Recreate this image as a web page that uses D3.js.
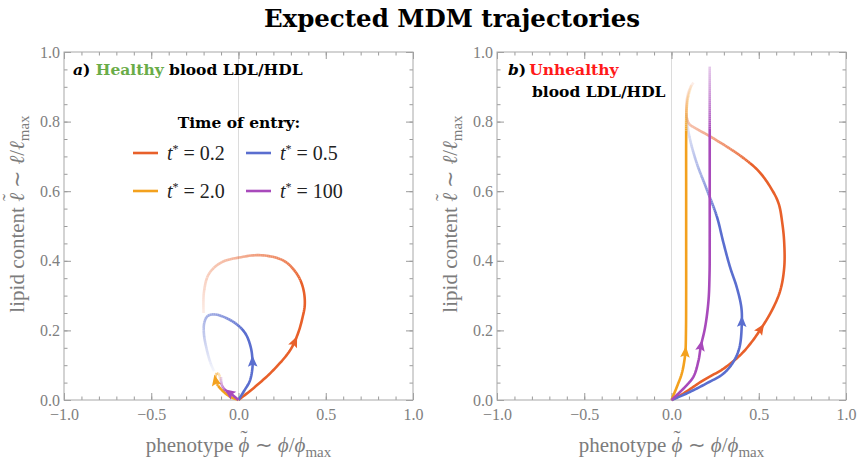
<!DOCTYPE html>
<html>
<head>
<meta charset="utf-8">
<script src="https://d3js.org/d3.v7.min.js"></script>
<style>
  body { margin: 0; background: #fff; }
  .tick text { fill: #808080; font-family: 'Liberation Serif', serif; font-size: 16px; }
  .tick line { stroke: #9a9a9a; }
  .axis-label { fill: #7c7c7c; font-family: 'Liberation Serif', serif; font-size: 21px; }
  .bold { font-family: 'DejaVu Serif', serif; font-weight: bold; }
  .legend-text { fill: #222; font-family: 'Liberation Serif', serif; font-size: 20px; }
</style>
</head>
<body>
<svg width="860" height="463"></svg>
<script>
// axis ticks
const xTicks = [-1, -0.5, 0, 0.5, 1];
const yTicks = [0, 0.2, 0.4, 0.6, 0.8, 1];
const xMinor = d3.range(-10, 11).map(d => d / 10);
const yMinor = d3.range(0, 21).map(d => d / 20);

const entryTimes = ['0.2', '0.5', '2.0', '100'];
const colors = ['#e8602a', '#5a6ecf', '#f3a11e', '#a84abb'];

// panel a, healthy: [phi, l]
const healthyT02 = [[0,0],[0.1,0.04],[0.2,0.086],[0.296,0.143],[0.34,0.19],[0.366,0.235],[0.38,0.275],[0.37,0.322],[0.335,0.362],[0.26,0.4],[0.13,0.416],[0.01,0.41],[-0.1,0.395],[-0.17,0.362],[-0.198,0.31],[-0.2,0.25]];
const healthyT05 = [[0,0],[0.032,0.026],[0.065,0.055],[0.08,0.093],[0.08,0.115],[0.071,0.15],[0.042,0.189],[-0.006,0.216],[-0.072,0.236],[-0.139,0.246],[-0.178,0.241],[-0.196,0.222],[-0.198,0.189],[-0.18,0.141],[-0.158,0.103],[-0.14,0.083]];
const healthyT2 = [[0,0],[-0.053,0.011],[-0.1,0.031],[-0.128,0.05],[-0.132,0.068],[-0.122,0.078],[-0.108,0.07],[-0.106,0.055]];
const healthyT100 = [[0,0],[-0.044,0.018],[-0.075,0.028],[-0.095,0.042],[-0.1,0.058],[-0.1,0.066]];
const healthyArrows = [[0.325,0.167],[0.08,0.112],[-0.13,0.055],[-0.055,0.022]];

// panel b, unhealthy
const unhealthyT02 = [[0,0],[0.069,0.019],[0.183,0.057],[0.298,0.09],[0.394,0.129],[0.46,0.167],[0.514,0.206],[0.575,0.257],[0.623,0.314],[0.646,0.381],[0.646,0.451],[0.635,0.508],[0.613,0.566],[0.565,0.613],[0.499,0.658],[0.413,0.695],[0.317,0.728],[0.222,0.757],[0.145,0.779],[0.103,0.792],[0.088,0.81],[0.085,0.84],[0.092,0.875],[0.11,0.9],[0.126,0.912]];
const unhealthyT05 = [[0,0],[0.088,0.019],[0.202,0.048],[0.298,0.076],[0.355,0.11],[0.39,0.152],[0.403,0.224],[0.4,0.267],[0.374,0.324],[0.336,0.381],[0.298,0.451],[0.26,0.527],[0.203,0.604],[0.145,0.68],[0.107,0.747],[0.09,0.795],[0.086,0.824]];
const unhealthyT2 = [[0,0],[0.031,0.038],[0.059,0.076],[0.074,0.114],[0.08,0.14],[0.083,0.2],[0.084,0.3],[0.084,0.45],[0.084,0.6],[0.084,0.75],[0.086,0.83],[0.095,0.87],[0.115,0.905]];
const unhealthyT100 = [[0,0],[0.069,0.033],[0.126,0.067],[0.155,0.114],[0.168,0.154],[0.193,0.21],[0.212,0.286],[0.218,0.362],[0.219,0.45],[0.219,0.6],[0.219,0.75],[0.219,0.958]];
const unhealthyArrows = [[0.514,0.206],[0.403,0.224],[0.08,0.135],[0.168,0.156]];

// where the fading starts (fraction of path) and how faint it ends
const healthyFade = [[0.5, 0.12], [0.45, 0.06], [0.55, 0.15], [0.5, 0.2]];
const unhealthyFade = [[0.72, 0.1], [0.68, 0.08], [0.86, 0.1], [0.82, 0.3]];

const svg = d3.select('svg');
const plotTop = 52, plotBottom = 400;

svg.append('text')
    .attr('class', 'bold')
    .attr('x', 452).attr('y', 27)
    .attr('text-anchor', 'middle')
    .style('font-size', '24.5px')
    .text('Expected MDM trajectories');

// symbol with a tilde on top, then the rest of the label
function tildeLabel(text, before, sym, symW) {
  text.append('tspan').text(before);
  text.append('tspan').style('font-style', 'italic').text(sym);
  text.append('tspan').attr('dx', -(symW + 7) / 2).attr('dy', -7).text('\u02dc');
  text.append('tspan').attr('dx', (symW - 7) / 2).attr('dy', 7).text(' \u223c ');
  text.append('tspan').style('font-style', 'italic').text(sym);
  text.append('tspan').text('/');
  text.append('tspan').style('font-style', 'italic').text(sym);
  text.append('tspan').attr('dy', 5).style('font-size', '15px').text('max');
}

function drawPanel(left, right, series, arrows, fades, labelLeft) {
  const x = d3.scaleLinear().domain([-1, 1]).range([left, right]);
  const y = d3.scaleLinear().domain([0, 1]).range([plotBottom, plotTop]);
  const g = svg.append('g');

  g.append('line')
      .attr('x1', x(0)).attr('x2', x(0))
      .attr('y1', y(0)).attr('y2', y(1))
      .attr('stroke', '#dcdcdc');

  // minor ticks on all sides
  g.append('g').attr('transform', `translate(0,${plotBottom})`)
      .call(d3.axisBottom(x).tickValues(xMinor).tickSize(-3.5).tickFormat(''));
  g.append('g').attr('transform', `translate(0,${plotTop})`)
      .call(d3.axisTop(x).tickValues(xMinor).tickSize(-3.5).tickFormat(''));
  g.append('g').attr('transform', `translate(${left},0)`)
      .call(d3.axisLeft(y).tickValues(yMinor).tickSize(-3.5).tickFormat(''));
  g.append('g').attr('transform', `translate(${right},0)`)
      .call(d3.axisRight(y).tickValues(yMinor).tickSize(-3.5).tickFormat(''));

  g.append('g').attr('transform', `translate(0,${plotBottom})`)
      .call(d3.axisBottom(x).tickValues(xTicks).tickSize(-7).tickPadding(9).tickFormat(d3.format('.1f')));
  g.append('g').attr('transform', `translate(0,${plotTop})`)
      .call(d3.axisTop(x).tickValues(xTicks).tickSize(-7).tickFormat(''));
  g.append('g').attr('transform', `translate(${left},0)`)
      .call(d3.axisLeft(y).tickValues(yTicks).tickSize(-7).tickPadding(4).tickFormat(d3.format('.1f')));
  g.append('g').attr('transform', `translate(${right},0)`)
      .call(d3.axisRight(y).tickValues(yTicks).tickSize(-7).tickFormat(''));
  g.selectAll('.domain').remove();

  g.append('rect')
      .attr('x', left).attr('y', plotTop)
      .attr('width', right - left).attr('height', plotBottom - plotTop)
      .attr('fill', 'none').attr('stroke', '#a8a8a8');

  // axis labels
  const xl = g.append('text').attr('class', 'axis-label')
      .attr('x', (left + right) / 2).attr('y', 452)
      .attr('text-anchor', 'middle');
  tildeLabel(xl, 'phenotype ', '\u03d5', 10.5);

  const yl = g.append('text').attr('class', 'axis-label')
      .attr('transform', `translate(${labelLeft},214) rotate(-90)`)
      .attr('text-anchor', 'middle');
  tildeLabel(yl, 'lipid content ', '\u2113', 9);

  const line = d3.line()
      .x(d => x(d[0])).y(d => y(d[1]))
      .curve(d3.curveCatmullRom.alpha(0.5));

  series.forEach((pts, si) => {
    const color = colors[si];
    const [f0, minOp] = fades[si];
    const tmp = g.append('path').attr('d', line(pts)).attr('fill', 'none');
    const node = tmp.node();
    const L = node.getTotalLength();
    const n = Math.ceil(L / 2);
    const s = d3.range(n + 1).map(i => node.getPointAtLength(L * i / n));
    tmp.remove();
    const lg = g.append('g');
    const m = Math.floor(f0 * n);
    // solid part as one path, faded tail as short pieces
    lg.append('path')
        .attr('d', d3.line().x(p => p.x).y(p => p.y)(s.slice(0, m + 1)))
        .attr('stroke', color).attr('stroke-width', 2.6)
        .attr('stroke-linejoin', 'round').attr('fill', 'none');
    for (let i = m; i < n; i++) {
      const t = (i + 0.5 - m) / (n - m);
      const op = 1 - (1 - minOp) * Math.pow(t, 0.8);
      lg.append('path')
          .attr('d', `M${s[i].x},${s[i].y}L${s[i + 1].x},${s[i + 1].y}`)
          .attr('stroke', color).attr('stroke-width', 2.6)
          .attr('stroke-opacity', op).attr('fill', 'none');
    }
    // arrow head
    const ax = x(arrows[si][0]), ay = y(arrows[si][1]);
    const k = d3.minIndex(s, p => (p.x - ax) ** 2 + (p.y - ay) ** 2);
    const a = s[Math.max(k - 3, 0)], b = s[Math.min(k + 3, n)];
    const ang = Math.atan2(b.y - a.y, b.x - a.x) * 180 / Math.PI;
    lg.append('path')
        .attr('d', 'M6,0L-5,-4.8L-3,0L-5,4.8Z')
        .attr('transform', `translate(${s[k].x},${s[k].y}) rotate(${ang})`)
        .attr('fill', color);
  });
}

drawPanel(64, 413, [healthyT02, healthyT05, healthyT2, healthyT100], healthyArrows, healthyFade, 24);
drawPanel(497, 846, [unhealthyT02, unhealthyT05, unhealthyT2, unhealthyT100], unhealthyArrows, unhealthyFade, 457);

// panel titles
const ta = svg.append('text').attr('class', 'bold').attr('x', 73).attr('y', 75).style('font-size', '15.5px');
ta.append('tspan').style('font-style', 'italic').text('a');
ta.append('tspan').text(') ');
ta.append('tspan').attr('fill', '#6aac48').text('Healthy');
ta.append('tspan').text(' blood LDL/HDL');

const tb = svg.append('text').attr('class', 'bold').attr('x', 508).attr('y', 75).style('font-size', '15.5px');
tb.append('tspan').style('font-style', 'italic').text('b');
tb.append('tspan').text(')');
tb.append('tspan').attr('dx', 3).attr('fill', '#ff1a1a').text('Unhealthy');
svg.append('text').attr('class', 'bold').attr('x', 532).attr('y', 97).style('font-size', '15.5px')
    .text('blood LDL/HDL');

// legend
svg.append('text').attr('class', 'bold')
    .attr('x', 239).attr('y', 128).attr('text-anchor', 'middle')
    .style('font-size', '15.5px')
    .text('Time of entry:');

const legendPos = [[133, 153], [246, 153], [133, 191], [246, 191]];
entryTimes.forEach((v, i) => {
  const [lx, ly] = legendPos[i];
  svg.append('line')
      .attr('x1', lx).attr('x2', lx + 25)
      .attr('y1', ly).attr('y2', ly)
      .attr('stroke', colors[i]).attr('stroke-width', 2.6);
  const t = svg.append('text').attr('class', 'legend-text')
      .attr('x', lx + 34).attr('y', ly + 7);
  t.append('tspan').style('font-style', 'italic').text('t');
  t.append('tspan').attr('dy', -7).style('font-size', '12px').text('*');
  t.append('tspan').attr('dy', 7).text(' = ' + v);
});
</script>
</body>
</html>
